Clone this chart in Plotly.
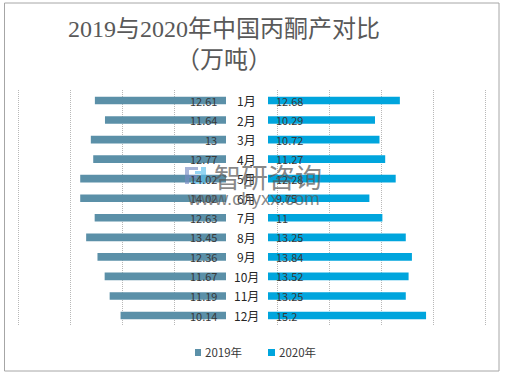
import plotly.graph_objects as go

months = ["1月","2月","3月","4月","5月","6月","7月","8月","9月","10月","11月","12月"]
v2019 = [12.61,11.64,13,12.77,14.02,14.02,12.63,13.45,12.36,11.67,11.19,10.14]
v2020 = [12.68,10.29,10.72,11.27,12.28,9.75,11,13.25,13.84,13.52,13.25,15.2]
labels2019 = ["12.61","11.64","13","12.77","14.02","14.02","12.63","13.45","12.36","11.67","11.19","10.14"]
labels2020 = ["12.68","10.29","10.72","11.27","12.28","9.75","11","13.25","13.84","13.52","13.25","15.2"]
series_names = ["2019年", "2020年"]
title = "2019与2020年中国丙酮产对比<br>（万吨）"
C19, C20 = "#5b90a8", "#00a5dd"
W, H = 505, 375
FONT = "Noto Sans CJK SC"
TXT = "#383838"

fig = go.Figure()
fig.add_bar(y=months, x=v2019, name=series_names[0], orientation="h", marker=dict(color=C19, line_width=0), xaxis="x", yaxis="y", showlegend=False, width=0.39)
fig.add_bar(y=months, x=v2020, name=series_names[1], orientation="h", marker=dict(color=C20, line_width=0), xaxis="x2", yaxis="y", showlegend=False, width=0.39)

anns = []
for m, la, lb in zip(months, labels2019, labels2020):
    anns.append(dict(x=0, y=m, xref="x", yref="y", text=la, showarrow=False, xanchor="right", xshift=-7, font=dict(size=11, color=TXT, family=FONT)))
    anns.append(dict(x=0, y=m, xref="x2", yref="y", text=lb, showarrow=False, xanchor="left", xshift=6, font=dict(size=11, color=TXT, family=FONT)))
    anns.append(dict(x=246/W, y=m, xref="paper", yref="y", text=m, showarrow=False, xanchor="center", yanchor="middle", font=dict(size=12, color="#262626", family=FONT)))
for nm, tx in zip(series_names, (203, 277)):
    anns.append(dict(x=tx/W, y=1-352/H, xref="paper", yref="paper", text=nm, showarrow=False, xanchor="left", yanchor="middle", font=dict(size=11.5, color=TXT, family=FONT)))
anns.append(dict(x=268/W, y=1-176/H, xref="paper", yref="paper", text="智研咨询", showarrow=False, yanchor="middle", font=dict(size=27, color="rgba(90,90,90,0.72)", family=FONT)))
anns.append(dict(x=253/W, y=1-199/H, xref="paper", yref="paper", text="www.chyxx.com", showarrow=False, yanchor="middle", font=dict(size=18.5, color="rgba(90,90,90,0.72)", family="Liberation Sans")))

def box(x0, y0, x1, y1, c):
    return dict(type="rect", xref="paper", yref="paper", x0=x0/W, x1=x1/W, y0=1-y0/H, y1=1-y1/H, fillcolor=c, line_width=0, layer="above")

LB, LC = "rgba(120,140,195,0.65)", "rgba(90,190,235,0.65)"
shapes = [
    dict(type="rect", xref="paper", yref="paper", x0=4.5/W, x1=499/W, y0=1-371/H, y1=1-3/H, line=dict(color="#a6a6a6", width=1), fillcolor="rgba(0,0,0,0)", layer="below"),
    box(185, 167, 198, 170, LB), box(185, 170, 189, 184, LB), box(189, 175, 197, 178, LB),
    box(201, 167, 206, 184, LC), box(191, 181, 201, 184, LC), box(195, 171, 201, 174, LC),
    box(195, 349, 201, 356, C19), box(268, 349, 275, 356, C20),
]

GRID = dict(showgrid=True, gridcolor="#b8b8b8", griddash="1px,1px", gridwidth=1, showticklabels=False, ticks="", zeroline=False, showline=False)
fig.update_layout(
    width=W, height=H, margin=dict(l=0, r=0, t=0, b=0), paper_bgcolor="white", plot_bgcolor="white",
    barmode="overlay", showlegend=False,
    title=dict(text=title, x=224/W, xanchor="center", y=1-37/H, yanchor="top", font=dict(family="Liberation Serif, Noto Sans CJK SC", size=24, color="#595959")),
    xaxis=dict(domain=[17/W, 226/W], range=[20.1, 0], tick0=0, dtick=5, **GRID),
    xaxis2=dict(domain=[268/W, 487/W], range=[0, 21.06], tick0=0.87, dtick=5, anchor="y", **GRID),
    yaxis=dict(domain=[1-326/H, 1-90/H], autorange="reversed", categoryorder="array", categoryarray=months, showticklabels=False, showgrid=False, ticks="", showline=False, zeroline=False),
    annotations=anns, shapes=shapes,
)
fig.write_html("out.html", config=dict(displayModeBar=False), post_script="document.body.style.margin='0';")
